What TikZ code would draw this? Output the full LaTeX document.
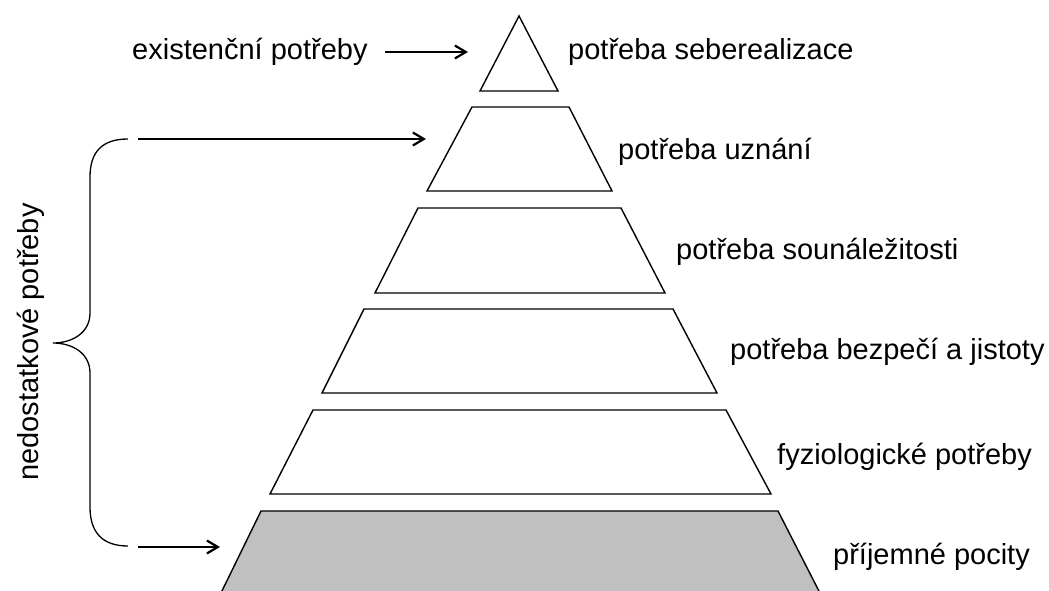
\documentclass[tikz,border=0pt]{standalone}
\usepackage{fontspec}
\setmainfont{Liberation Sans}
\usetikzlibrary{arrows.meta}
\begin{document}
\begin{tikzpicture}[x=1pt,y=1pt,
  level/.style={draw=black,line width=1.4pt,line join=miter},
  base/.style={level,fill=gray75},
  lbl/.style={anchor=base west,inner sep=0pt,font=\fontsize{29}{35}\selectfont},
  arr/.style={-{Straight Barb[length=11pt,width=13pt,line width=2.2pt]},line width=2.4pt},
  brace/.style={line width=1.3pt}]
\definecolor{gray75}{RGB}{192,192,192}
\useasboundingbox (0,0) rectangle (1049,-591);
% pyramid levels
\draw[level] (519,-16) coordinate (t1) -- (558,-91) -- (480,-91) coordinate (t1l) -- cycle;
\draw[level] (472,-107) coordinate (t2) -- (569,-107) -- (612,-191) -- (427,-191) -- cycle;
\draw[level] (418,-208) -- (621,-208) -- (665,-293) -- (375,-293) -- cycle;
\draw[level] (364,-309) -- (673,-309) -- (717,-393) -- (322,-393) -- cycle;
\draw[level] (313,-410) -- (726,-410) -- (771,-494) -- (270,-494) -- cycle;
\fill[gray75] (261,-511) -- (778,-511) -- (822,-597) -- (219,-597) -- cycle;
\draw[level] (219,-597) -- (261,-511) -- (778,-511) -- (822,-597);
% labels
\node[lbl] (l1) at (568,-60) {potřeba seberealizace};
\node[lbl] (l2) at (618,-160) {potřeba uznání};
\node[lbl] (l3) at (676,-259) {potřeba sounáležitosti};
\node[lbl] (l4) at (730,-359) {potřeba bezpečí a jistoty};
\node[lbl] (l5) at (777,-464) {fyziologické potřeby};
\node[lbl] (l6) at (833,-564) {příjemné pocity};
\node[lbl] (ex) at (132,-60) {existenční potřeby};
\node[lbl,anchor=base,rotate=90] (nd) at (38,-342) {nedostatkové potřeby};
% arrows
\coordinate (a1s) at (385,-52);
\coordinate (a1e) at (468,-52);
\coordinate (a2s) at (138,-139);
\coordinate (a2e) at (426,-139);
\coordinate (a3s) at (138,-547);
\coordinate (a3e) at (220,-547);
\draw[arr] (a1s) -- (a1e);
\draw[arr] (a2s) -- (a2e);
\draw[arr] (a3s) -- (a3e);
% brace
\coordinate (bt) at (128,-139);
\coordinate (bm) at (53,-343);
\coordinate (bb) at (128,-546);
\draw[brace] (bt) .. controls (102,-139) and (90,-152) .. (90,-177)
  -- (90,-313) .. controls (90,-333) and (72,-343) .. (bm)
  .. controls (72,-343) and (90,-353) .. (90,-373)
  -- (90,-507) .. controls (90,-532) and (102,-546) .. (bb);
\end{tikzpicture}
\end{document}
